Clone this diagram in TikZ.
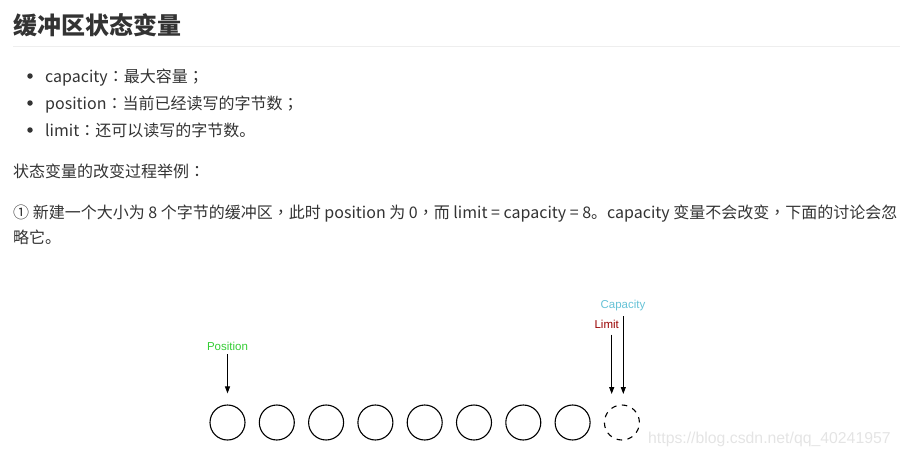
\documentclass[tikz,border=0pt]{standalone}
\usepackage{fontspec}
\setmainfont{Noto Sans CJK SC}
\newfontfamily\tcfont{Noto Sans CJK TC}
\newfontfamily\arialfont{Liberation Sans}
\usetikzlibrary{arrows.meta,positioning}
\definecolor{txt}{HTML}{333333}
\definecolor{rulegray}{HTML}{EEEEEE}
\definecolor{posgreen}{HTML}{33CC33}
\definecolor{limred}{HTML}{990000}
\definecolor{capblue}{HTML}{66C2D6}
\definecolor{wmgray}{HTML}{E4E4E4}
\newcommand{\zp}[1]{{\tcfont #1}}
\tikzset{
  buf/.style={circle,draw,line width=1.1pt,minimum size=35pt,inner sep=0pt},
  ptr/.style={-{Triangle[length=7pt,width=5pt]},line width=1pt},
  line/.style={anchor=base west,text=txt,inner sep=0pt,font=\fontsize{16}{19}\selectfont},
  lbl/.style={inner sep=0pt,font=\arialfont\fontsize{11.5}{13}\selectfont},
  dot/.style={circle,fill=txt,inner sep=0pt,minimum size=5.5pt}
}

\begin{document}
\begin{tikzpicture}[x=1pt,y=-1pt,node distance=49.3pt]
      \useasboundingbox (0,0) rectangle (900,458);

      % heading and text
      \node[line,font=\bfseries\fontsize{24}{28}\selectfont] (title) at (13,34) {缓冲区状态变量};
      \draw[rulegray,line width=1pt] (13,46) -- (900,46);
      \node[dot] (d1) at (30,76) {};
      \node[dot] (d2) at (30,103) {};
      \node[dot] (d3) at (30,130) {};
      \node[line] (t1) at (45,82) {capacity\zp{：}最大容量\zp{；}};
      \node[line] (t2) at (45,109) {position\zp{：}当前已经读写的字节数\zp{；}};
      \node[line] (t3) at (45,136) {limit\zp{：}还可以读写的字节数。};
      \node[line] (t4) at (13,177) {状态变量的改变过程举例\zp{：}};
      \node[line] (t5) at (13,218) {① 新建一个大小为 8 个字节的缓冲区\zp{，}此时 position 为 0\zp{，}而 limit = capacity = 8。capacity 变量不会改变\zp{，}下面的讨论会忽};
      \node[line] (t6) at (13,243) {略它。};

      % buffer
      \node[buf] (1) at (227.5,422.5) {};
      \node[buf,right of=1] (2) {};
      \node[buf,right of=2] (3) {};
      \node[buf,right of=3] (4) {};
      \node[buf,right of=4] (5) {};
      \node[buf,right of=5] (6) {};
      \node[buf,right of=6] (7) {};
      \node[buf,right of=7] (8) {};
      \node[buf,right of=8,dash pattern=on 5.5pt off 5.5pt] (9) {};

      % pointers
      \node[lbl,text=posgreen] (pos) at (227.5,346.7) {Position};
      \node[lbl,text=limred] (lim) at (606.7,324.3) {Limit};
      \node[lbl,text=capblue] (cap) at (623,305.7) {Capacity};
      \coordinate (limtip) at (611.7,394);
      \coordinate (captip) at (623.3,394);

      \draw[ptr,shorten <=3pt,shorten >=11pt] (pos.south) -- (1.north);
      \draw[ptr,shorten <=6pt] (lim.south -| limtip) -- (limtip);
      \draw[ptr,shorten <=5pt] (cap.south -| captip) -- (captip);

      \node[anchor=base west,inner sep=0pt,text=wmgray,font=\arialfont\fontsize{15.8}{18}\selectfont] (wm) at (648,443) {https://blog.csdn.net/qq\_40241957};
    \end{tikzpicture}
\end{document}
